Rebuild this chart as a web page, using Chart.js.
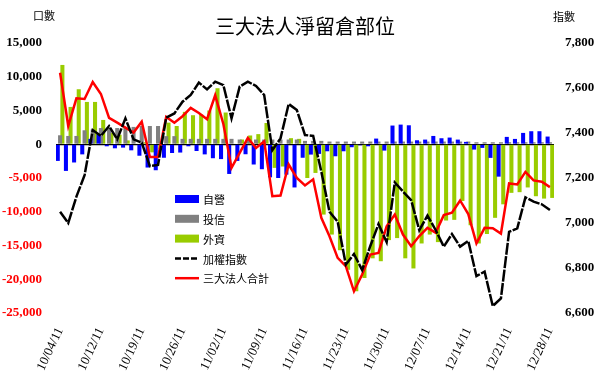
<!DOCTYPE html>
<html>
<head>
<meta charset="utf-8">
<script src="https://cdn.jsdelivr.net/npm/chart.js@4.4.1/dist/chart.umd.min.js"></script>
<style>
  html, body { margin: 0; padding: 0; background: #fff; }
  #wrap { width: 600px; height: 386px; }
</style>
</head>
<body>
<div id="wrap"><canvas id="chart" width="600" height="386"></canvas></div>
<script>
// ---- data ----
const dates = [
  "10/04/11","10/05/11","10/06/11","10/07/11","10/11/11","10/12/11","10/13/11","10/14/11","10/17/11","10/18/11",
  "10/19/11","10/20/11","10/21/11","10/24/11","10/25/11","10/26/11","10/27/11","10/28/11","10/31/11","11/01/11",
  "11/02/11","11/03/11","11/04/11","11/07/11","11/08/11","11/09/11","11/10/11","11/11/11","11/14/11","11/15/11",
  "11/16/11","11/17/11","11/18/11","11/21/11","11/22/11","11/23/11","11/24/11","11/25/11","11/28/11","11/29/11",
  "11/30/11","12/01/11","12/02/11","12/05/11","12/06/11","12/07/11","12/08/11","12/09/11","12/12/11","12/13/11",
  "12/14/11","12/15/11","12/16/11","12/19/11","12/20/11","12/21/11","12/22/11","12/23/11","12/26/11","12/27/11",
  "12/28/11"
];

const ziying = [
  -2470,-3950,-2700,-1500,800,1500,-300,-600,-500,-900,
  -1700,-3450,-3850,-2000,-1300,-1230,-300,-1000,-1500,-2070,
  -2200,-4400,-2470,-1480,-3000,-3700,-4900,-5000,-4500,-6400,
  -2000,-1530,-1430,-1040,-1780,-1040,-440,-150,-300,840,
  -940,2770,2910,2810,590,690,1230,890,990,690,
  350,-790,-540,-2020,-4800,1090,790,1680,1930,1930,
  1140
];

const touxin = [
  1330,1230,1230,2070,2200,2400,2400,2400,2400,2570,
  2700,2700,2700,1200,1200,800,800,800,800,800,
  800,800,700,700,700,700,700,700,700,700,
  500,500,500,400,400,400,400,400,400,400,
  400,400,400,400,400,400,400,400,400,400,
  400,300,300,300,300,300,300,300,300,300,
  300
];

const waizi = [
  11750,5530,8150,6270,6270,3600,1700,1400,570,100,
  300,-1200,-700,3200,2700,4800,4300,4400,5000,8300,
  4700,100,700,1300,1500,3150,-3500,-3300,900,800,
  -5000,-4250,-10420,-13380,-15700,-18600,-21780,-19800,-16900,-17330,
  -14200,-13900,-16900,-18400,-14700,-13380,-14500,-11300,-11200,-8400,
  -12000,-14700,-13300,-10900,-8900,-7200,-7100,-6400,-7700,-8050,
  -7950
];

const heji = [
  10600,2700,6800,6700,9230,7450,3900,3200,2470,1730,
  3350,-1880,-1880,4050,3200,4150,5380,4640,3700,7250,
  3000,-3500,-1280,930,-550,440,-7700,-7600,-3000,-5000,
  -6100,-5200,-10900,-13630,-16840,-18070,-21780,-19310,-16350,-16100,
  -12150,-10420,-13380,-15110,-13600,-12380,-13100,-10500,-10150,-8330,
  -10350,-14670,-12380,-12440,-13230,-5800,-5950,-4100,-5350,-5550,
  -6350
];

const taiex = [
  7050,7000,7117,7213,7413,7387,7431,7372,7465,7372,
  7357,7253,7258,7468,7487,7539,7569,7624,7594,7628,
  7613,7465,7606,7628,7609,7569,7324,7376,7529,7502,
  7391,7387,7228,7050,7006,6815,6862,6791,6898,6995,
  6915,7180,7140,7102,6968,7033,6969,6895,6951,6895,
  6920,6764,6784,6631,6665,6961,6976,7114,7095,7083,
  7058
];

const leftTicks = { min: -25000, max: 15000, step: 5000 };
const rightTicks = { min: 6600, max: 7800, step: 200 };

// ---- decorations: title, units, legend ----
const decorations = {
  id: 'decorations',
  afterDraw(chart) {
    const ctx = chart.ctx;
    ctx.save();
    ctx.fillStyle = '#000';
    ctx.textBaseline = 'middle';
    ctx.textAlign = 'center';
    ctx.font = '20px "Noto Sans CJK TC"';
    ctx.fillText('三大法人淨留倉部位', 305, 26);
    ctx.font = '11px "Noto Sans CJK TC"';
    ctx.textAlign = 'left';
    ctx.fillText('口數', 33, 16);
    ctx.fillText('指數', 553, 17);

    // legend
    let y = 199;
    chart.data.datasets.forEach(ds => {
      if (ds.type === 'line') {
        ctx.strokeStyle = ds.borderColor;
        ctx.lineWidth = 2.5;
        ctx.setLineDash(ds.type === 'line' && ds.yAxisID === 'y1' ? [6, 2] : []);
        ctx.beginPath();
        ctx.moveTo(175, y);
        ctx.lineTo(199, y);
        ctx.stroke();
        ctx.setLineDash([]);
      } else {
        ctx.fillStyle = ds.backgroundColor;
        ctx.fillRect(175, y - 4, 24, 8);
      }
      ctx.fillStyle = '#000';
      ctx.font = '11px "Noto Sans CJK TC"';
      ctx.fillText(ds.label, 203, y + 1);
      y += 19.8;
    });
    ctx.restore();
  }
};

const barOpts = { categoryPercentage: 0.85, barPercentage: 1.75, order: 1, yAxisID: 'y' };

new Chart(document.getElementById('chart'), {
  type: 'bar',
  data: {
    labels: dates,
    datasets: [
      { label: '自營', data: ziying, backgroundColor: '#0000ff', ...barOpts },
      { label: '投信', data: touxin, backgroundColor: '#808080', ...barOpts },
      { label: '外資', data: waizi, backgroundColor: '#99cc00', ...barOpts },
      { type: 'line', label: '加權指數', data: taiex, yAxisID: 'y1', order: 0,
        borderColor: '#000', borderWidth: 2.5, borderDash: [12, 1.5], pointRadius: 0, tension: 0 },
      { type: 'line', label: '三大法人合計', data: heji, yAxisID: 'y', order: 0,
        borderColor: '#ff0000', borderWidth: 2.5, pointRadius: 0, tension: 0 }
    ]
  },
  options: {
    responsive: false,
    animation: false,
    devicePixelRatio: 1,
    layout: { padding: { top: 43, left: 0, right: 0, bottom: 0 } },
    plugins: { legend: { display: false }, tooltip: { enabled: false }, title: { display: false } },
    scales: {
      x: {
        offset: true,
        grid: { display: false },
        border: { display: false },
        ticks: {
          autoSkip: false,
          minRotation: 65,
          maxRotation: 65,
          padding: 4,
          color: '#000',
          font: { family: 'Liberation Serif', size: 13 },
          callback: (v, i) => (i % 5 === 0 ? dates[i] : '')
        },
        afterFit: s => { s.height = 73; }
      },
      y: {
        position: 'left',
        min: leftTicks.min,
        max: leftTicks.max,
        border: { display: false },
        grid: {
          drawTicks: false,
          color: c => (c.tick && c.tick.value === 0 ? '#000' : 'rgba(0,0,0,0)'),
          lineWidth: 1.2
        },
        ticks: {
          stepSize: leftTicks.step,
          padding: 14,
          color: c => (c.tick && c.tick.value < 0 ? '#ff0000' : '#000'),
          font: { family: 'Liberation Serif', size: 13, weight: 'bold' },
          callback: v => v.toLocaleString('en-US')
        },
        afterFit: s => { s.width = 56; }
      },
      y1: {
        position: 'right',
        min: rightTicks.min,
        max: rightTicks.max,
        border: { display: false },
        grid: { display: false, drawTicks: false },
        ticks: {
          stepSize: rightTicks.step,
          padding: 11,
          color: '#000',
          font: { family: 'Liberation Serif', size: 13, weight: 'bold' },
          callback: v => v.toLocaleString('en-US')
        },
        afterFit: s => { s.width = 46; }
      }
    }
  },
  plugins: [decorations]
});
</script>
</body>
</html>
